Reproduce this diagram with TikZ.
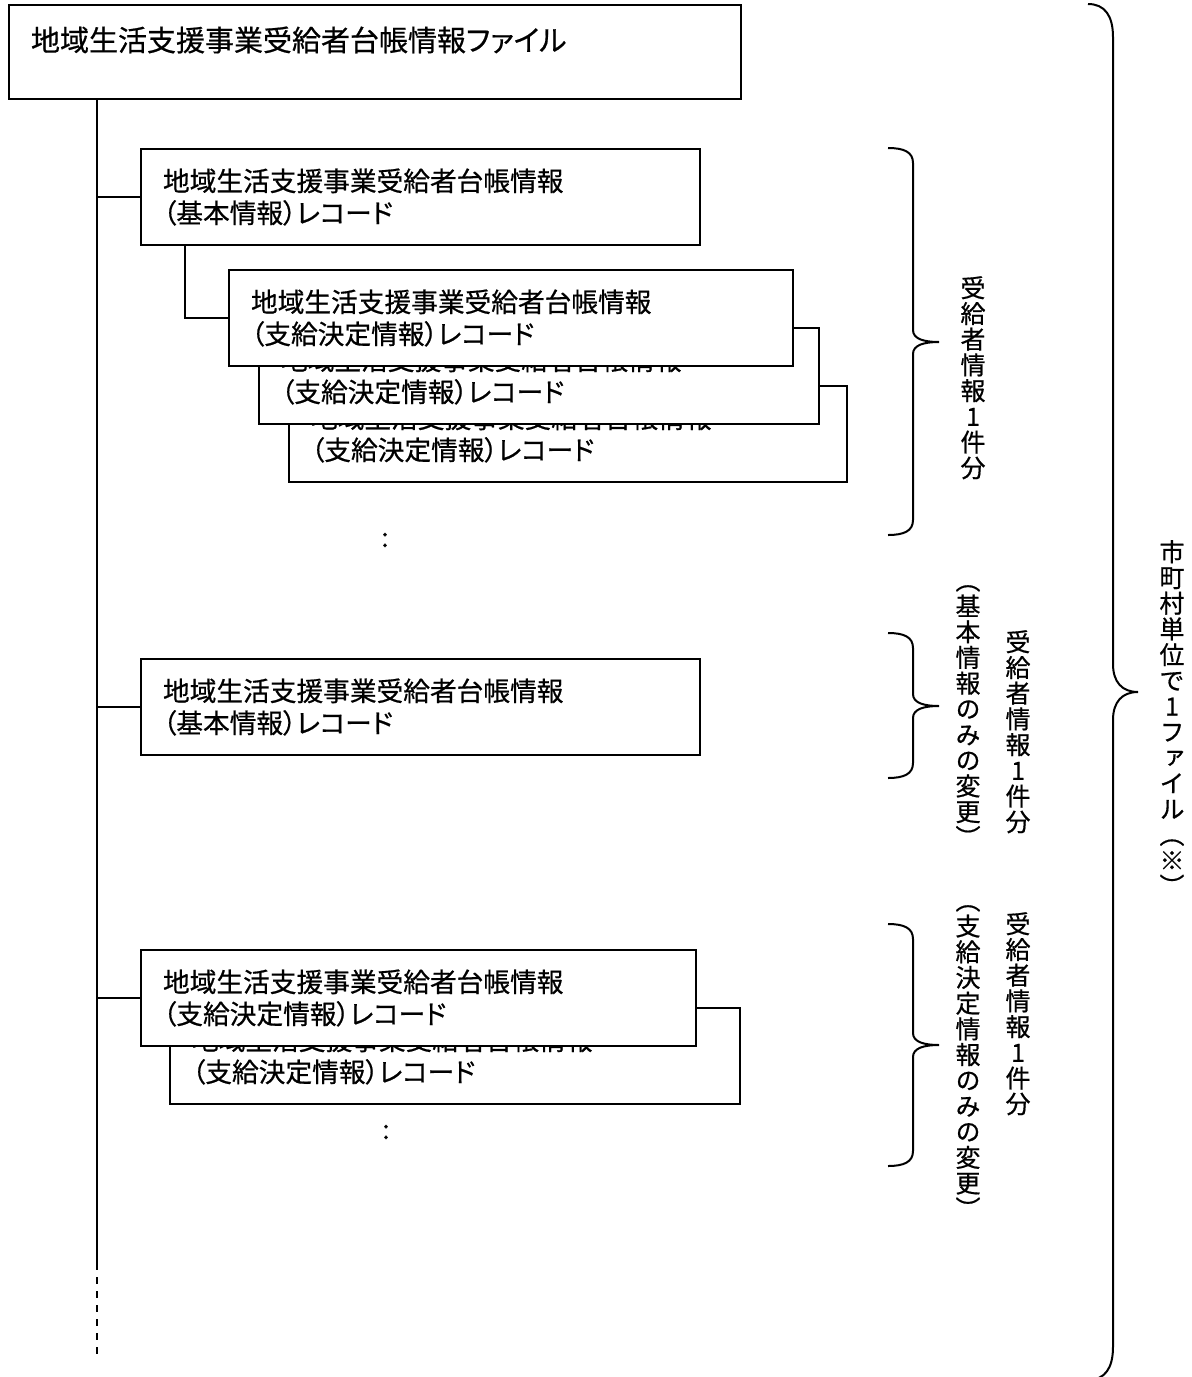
\documentclass[tikz,border=0pt]{standalone}
\usepackage{fontspec}
\setmainfont{Noto Sans CJK JP}[RawFeature=+palt, FakeBold=0.6]
\newfontfamily\tatefont{Noto Sans CJK JP}[RawFeature=+vert, FakeBold=0.6]

\tikzset{
	recbox/.style={draw, fill=white, line width=2pt, anchor=north west, inner xsep=22pt, inner ysep=0pt, minimum height=96pt, text width=#1, align=left, font=\fontsize{26.7}{32}\selectfont},
	tate/.style={anchor=north, inner sep=0pt, align=center, font=\tatefont\fontsize{25}{25.7}\selectfont},
	branch/.style={line width=2pt},
	brace/.style={line width=2pt}
}

\begin{document}
\begin{tikzpicture}[x=1pt, y=-1pt]
		\useasboundingbox (0,0) rectangle (1192,1377);

		\node[draw, line width=2pt, anchor=north west, inner xsep=22pt, inner ysep=0pt, minimum height=94pt, text width=688pt, align=left, text height=25.5pt, text depth=27.5pt, font=\fontsize{29}{34}\selectfont] (file) at (8,4) {地域生活支援事業受給者台帳情報ファイル};

		\coordinate (trunk) at ([xshift=89pt]file.south west);
		\coordinate (cut) at (97,1263);
		\coordinate (tail) at (97,1357);
		\draw[branch] (trunk) -- (cut);
		\draw[branch, dash pattern=on 7pt off 7pt] (cut) -- (tail);

		\node[recbox=515pt] (base1) at (140,148) {地域生活支援事業受給者台帳情報\\（基本情報）レコード};
		\node[recbox=514pt] (pay3) at (288,385) {地域生活支援事業受給者台帳情報\\（支給決定情報）レコード};
		\node[recbox=516pt] (pay2) at (258,327) {地域生活支援事業受給者台帳情報\\（支給決定情報）レコード};
		\node[recbox=520pt] (pay1) at (228,269) {地域生活支援事業受給者台帳情報\\（支給決定情報）レコード};
		\draw[branch] (trunk |- base1.west) -- (base1.west);
		\draw[branch] ([xshift=45pt]base1.south west) |- (pay1.west);
		\node[font=\fontsize{26.7}{31}\selectfont] (more1) at (385,540) {:};

		\node[recbox=515pt] (base2) at (140,658) {地域生活支援事業受給者台帳情報\\（基本情報）レコード};
		\draw[branch] (trunk |- base2.west) -- (base2.west);

		\node[recbox=526pt] (pay5) at (169,1007) {地域生活支援事業受給者台帳情報\\（支給決定情報）レコード};
		\node[recbox=511pt] (pay4) at (140,949) {地域生活支援事業受給者台帳情報\\（支給決定情報）レコード};
		\draw[branch] (trunk |- pay4.west) -- (pay4.west);
		\node[font=\fontsize{26.7}{31}\selectfont] (more2) at (386,1132) {:};

		\draw[brace] (888,148) .. controls (904,148) and (913,152) .. (913,163) -- (913,330) .. controls (913,339) and (924,342) .. (939,342) .. controls (924,342) and (913,345) .. (913,354) -- (913,520) .. controls (913,531) and (904,535) .. (888,535);
		\draw[brace] (888,633) .. controls (904,633) and (913,637) .. (913,648) -- (913,694) .. controls (913,703) and (924,706) .. (939,706) .. controls (924,706) and (913,709) .. (913,718) -- (913,763) .. controls (913,774) and (904,778) .. (888,778);
		\draw[brace] (888,924) .. controls (904,924) and (913,928) .. (913,939) -- (913,1033) .. controls (913,1042) and (924,1045) .. (939,1045) .. controls (924,1045) and (913,1048) .. (913,1057) -- (913,1151) .. controls (913,1162) and (904,1166) .. (888,1166);
		\draw[brace] (1088,4) .. controls (1105,4) and (1113,16) .. (1113,37) -- (1113,664) .. controls (1113,682) and (1122,692) .. (1138,692) .. controls (1122,692) and (1113,702) .. (1113,720) -- (1113,1347) .. controls (1113,1368) and (1105,1380) .. (1088,1380);

		\node[tate] (count1) at (973,276) {受\\給\\者\\情\\報\\1\\件\\分};
		\node[tate] (note2) at (968,585) {（\\基\\本\\情\\報\\の\\み\\の\\変\\更\\）};
		\node[tate] (count2) at (1018,630) {受\\給\\者\\情\\報\\1\\件\\分};
		\node[tate] (note3) at (968,905) {（\\支\\給\\決\\定\\情\\報\\の\\み\\の\\変\\更\\）};
		\node[tate] (count3) at (1018,912) {受\\給\\者\\情\\報\\1\\件\\分};
		\node[tate] (unit) at (1172,540) {市\\町\\村\\単\\位\\で\\1\\フ\\ァ\\イ\\ル\\（\\※\\）};

\end{tikzpicture}
\end{document}
